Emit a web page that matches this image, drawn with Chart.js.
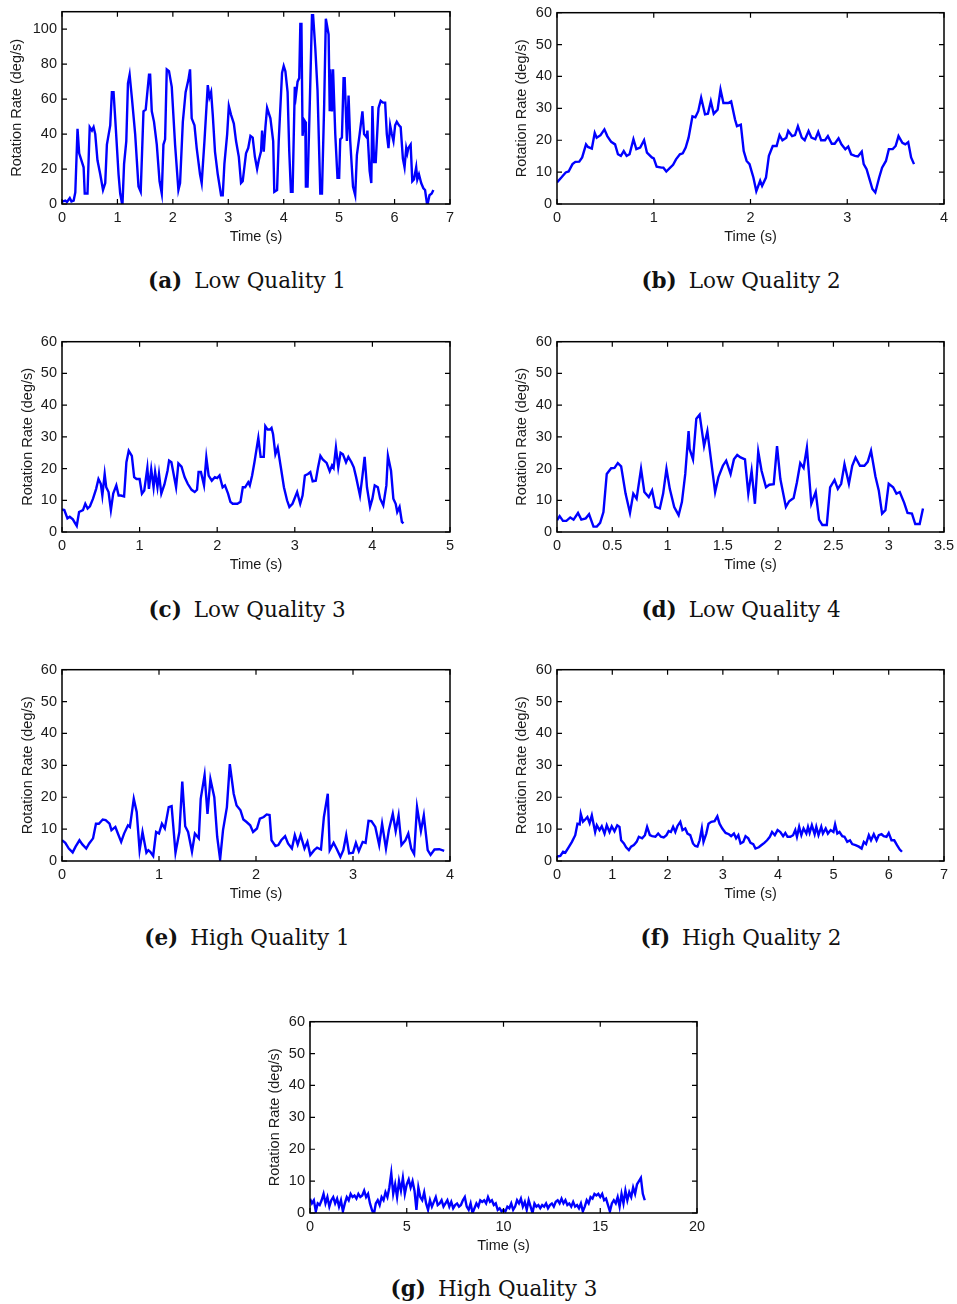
<!DOCTYPE html>
<html>
<head>
<meta charset="utf-8">
<script src="https://cdn.jsdelivr.net/npm/chart.js@4.4.1/dist/chart.umd.min.js"></script>
<style>
    body { margin: 0; background: #fff; width: 957px; height: 1304px; position: relative; overflow: hidden; }
    canvas { position: absolute; }
    .cap { position: absolute; width: 400px; text-align: center; font-family: "DejaVu Serif", serif; font-size: 21.5px; line-height: 28px; color: #111; }
    .cap b { margin-right: 12px; }
</style>
</head>
<body>

<canvas id="chartA"></canvas>
<canvas id="chartB"></canvas>
<canvas id="chartC"></canvas>
<canvas id="chartD"></canvas>
<canvas id="chartE"></canvas>
<canvas id="chartF"></canvas>
<canvas id="chartG"></canvas>

<div class="cap" id="capA"><b>(a)</b>Low Quality 1</div>
<div class="cap" id="capB"><b>(b)</b>Low Quality 2</div>
<div class="cap" id="capC"><b>(c)</b>Low Quality 3</div>
<div class="cap" id="capD"><b>(d)</b>Low Quality 4</div>
<div class="cap" id="capE"><b>(e)</b>High Quality 1</div>
<div class="cap" id="capF"><b>(f)</b>High Quality 2</div>
<div class="cap" id="capG"><b>(g)</b>High Quality 3</div>

<script>

// Axis ticks
const yTicksA = [0, 20, 40, 60, 80, 100];
const yTicks60 = [0, 10, 20, 30, 40, 50, 60];
const xTicksA = [0, 1, 2, 3, 4, 5, 6, 7];
const xTicksB = [0, 1, 2, 3, 4];
const xTicksC = [0, 1, 2, 3, 4, 5];
const xTicksD = [0, 0.5, 1, 1.5, 2, 2.5, 3, 3.5];
const xTicksE = [0, 1, 2, 3, 4];
const xTicksF = [0, 1, 2, 3, 4, 5, 6, 7];
const xTicksG = [0, 5, 10, 15, 20];

// (a) Low Quality 1
const timeA = [0,0.06,0.09,0.14,0.17,0.21,0.24,0.28,0.31,0.39,
    0.41,0.46,0.5,0.54,0.57,0.6,0.64,0.69,0.74,0.78,
    0.81,0.87,0.9,0.93,0.96,1.02,1.05,1.09,1.12,1.16,
    1.19,1.22,1.26,1.32,1.38,1.42,1.47,1.51,1.57,1.59,
    1.62,1.66,1.71,1.76,1.8,1.83,1.86,1.89,1.93,1.98,
    2.04,2.1,2.13,2.18,2.23,2.28,2.31,2.34,2.39,2.43,
    2.49,2.52,2.57,2.63,2.66,2.69,2.72,2.76,2.81,2.87,
    2.9,2.93,2.98,3.01,3.05,3.1,3.14,3.19,3.23,3.26,
    3.32,3.36,3.4,3.44,3.48,3.52,3.55,3.59,3.61,3.64,
    3.67,3.7,3.76,3.81,3.83,3.88,3.91,3.97,4.0,4.03,
    4.07,4.1,4.13,4.16,4.2,4.22,4.25,4.28,4.3,4.32,
    4.34,4.37,4.39,4.4,4.43,4.47,4.51,4.53,4.57,4.61,
    4.66,4.69,4.73,4.76,4.81,4.83,4.84,4.87,4.89,4.93,
    4.97,5.0,5.02,5.05,5.08,5.1,5.14,5.17,5.2,5.25,
    5.29,5.32,5.37,5.42,5.45,5.5,5.51,5.55,5.58,5.6,
    5.63,5.66,5.71,5.75,5.79,5.83,5.86,5.89,5.92,5.95,
    5.98,6.01,6.04,6.08,6.11,6.15,6.18,6.21,6.23,6.25,
    6.29,6.32,6.35,6.39,6.41,6.44,6.48,6.52,6.55,6.59,
    6.63,6.67,6.7];
const rateA = [1.3,2,1.2,3.4,1.5,2,6.6,43,29,21,
    6,6,44,42,44,40,25,17,8,12,
    34,45,64,64,49,17,6,-1,23,36,
    69,74,61,40,10,7,53,54,74,74,
    53,47,34,13,6,34,37,77,76,67,
    34,8,12,47,64,71,77,49,45,32,
    17,12,36,68,61,64,51,30,17,5,
    5,23,40,56,51,46,36,27,12,13,
    29,32,39,38,27,20,25,30,42,30,
    44,55,49,36,7,8,36,75,79,76,
    64,30,7,7,67,62,70,72,103,103,
    39,48,47,10,10,57,108,108,89,65,
    6,6,57,106,97,53,77,53,77,40,
    15,15,37,38,72,72,36,62,36,10,
    5,28,40,53,40,38,42,19,12,56,
    24,24,55,59,58,58,40,32,45,40,
    36,45,47,45,44,26,21,32,29,32,
    34,13,14,21,14,17,12,9,8,-1,
    5,6,8];

// (b) Low Quality 2
const timeB = [0,0.045,0.09,0.12,0.16,0.19,0.23,0.26,0.3,0.32,
    0.36,0.39,0.41,0.45,0.49,0.52,0.56,0.6,0.63,0.66,
    0.69,0.72,0.75,0.79,0.82,0.86,0.9,0.93,0.98,1.0,
    1.03,1.08,1.1,1.13,1.17,1.2,1.23,1.27,1.3,1.33,
    1.36,1.4,1.43,1.46,1.49,1.53,1.56,1.59,1.62,1.66,
    1.69,1.72,1.77,1.8,1.84,1.86,1.9,1.93,1.96,1.99,
    2.01,2.03,2.06,2.1,2.12,2.16,2.19,2.23,2.27,2.3,
    2.33,2.37,2.39,2.43,2.46,2.49,2.53,2.56,2.6,2.63,
    2.67,2.7,2.73,2.77,2.8,2.84,2.87,2.91,2.94,2.98,
    3.01,3.04,3.08,3.11,3.15,3.17,3.2,3.23,3.26,3.29,
    3.33,3.36,3.4,3.43,3.47,3.5,3.53,3.57,3.6,3.63,
    3.66,3.69];
const rateB = [6.8,8.3,9.9,10.2,12.5,13.2,13.3,14.6,18.7,17.9,
    17.4,22.3,20.8,21.6,23.4,21.3,19.5,18.7,15.6,15.1,
    16.6,15.1,15.6,20.3,17.2,17.7,20,16.1,14.6,14.3,
    11.7,11.4,11.4,10.2,11.4,12.3,14,15.6,15.9,17.7,
    20.8,27.5,27.2,29.1,33.3,28.1,28.3,32.2,28.3,29.6,
    35.9,31.7,31.7,32.2,26.5,24.4,24.9,16.6,13.5,12.5,
    10.4,8.3,4,7.3,5.7,8.3,15.1,18.2,18.2,21.6,
    20,20.8,22.9,21.3,21.6,24.4,20.8,20,22.9,20.8,
    20.3,22.6,20,20,21.3,18.9,18.9,20.6,18.7,17.2,
    18,15.6,15.1,14.9,16.4,12.5,10.9,7.8,4.7,3.6,
    8.3,11.4,13.5,17.2,17.2,18.2,21.3,19.2,18.7,19.4,
    14.6,12.5];

// (c) Low Quality 3
const timeC = [0,0.03,0.07,0.1,0.14,0.17,0.19,0.22,0.27,0.3,
    0.33,0.36,0.4,0.44,0.47,0.5,0.52,0.55,0.57,0.6,
    0.63,0.66,0.7,0.73,0.76,0.8,0.83,0.86,0.9,0.93,
    0.96,1.0,1.03,1.06,1.1,1.12,1.15,1.18,1.2,1.23,
    1.25,1.28,1.32,1.36,1.38,1.41,1.47,1.5,1.54,1.58,
    1.62,1.67,1.71,1.74,1.76,1.79,1.83,1.86,1.89,1.93,
    1.97,2.0,2.03,2.07,2.1,2.14,2.17,2.2,2.26,2.3,
    2.33,2.36,2.4,2.42,2.45,2.48,2.53,2.56,2.6,2.62,
    2.65,2.68,2.7,2.72,2.75,2.78,2.82,2.86,2.9,2.93,
    2.97,3.03,3.07,3.1,3.13,3.17,3.2,3.23,3.27,3.3,
    3.33,3.36,3.41,3.45,3.48,3.5,3.53,3.56,3.59,3.62,
    3.66,3.69,3.73,3.76,3.79,3.84,3.87,3.9,3.93,3.97,
    4.0,4.03,4.07,4.1,4.14,4.18,4.2,4.24,4.27,4.3,
    4.32,4.35,4.38,4.4];
const rateC = [7.1,6.9,4.3,4.8,4,2.7,1.9,6.3,6.9,8.9,
    7.4,8.1,10.5,13.6,16.7,15.2,11.5,18.3,14.1,12.6,
    6.9,12.1,14.7,11.5,11.5,11.2,22,25.6,24,17.3,
    16.7,16.7,12.1,13.1,20.2,13.6,19.8,14.1,18.9,14.1,
    18.3,12.1,15,19.3,22.5,22,14.1,21.6,20.6,17.3,
    15.2,13.3,12.6,13.3,18.9,18.9,14.7,23.5,17.8,16.2,
    17.3,17,17.8,14.1,14.7,12.1,9.5,8.9,8.9,9.5,
    14.1,14.1,15.7,14.7,17.8,22,29.7,23.7,23.7,33.4,
    32.3,32.3,32.8,30.8,24.5,26.6,20.4,14.1,10,7.9,
    8.9,12.6,8.9,11.5,17.8,18.3,18.9,16,16.2,20.4,
    24,22.9,21.8,19.2,21,20.2,26.6,20.4,25,24.5,
    22,23.7,22,20.4,17.3,11.5,17.3,23.7,14.1,7.9,
    10.5,14.7,14.1,10.5,8.4,14.7,24,19.3,10.5,8.9,
    6.3,7.9,3.2,2.7];

// (d) Low Quality 4
const timeD = [0,0.024,0.054,0.085,0.12,0.15,0.19,0.22,0.26,0.29,
    0.33,0.36,0.39,0.42,0.45,0.49,0.52,0.55,0.58,0.62,
    0.66,0.69,0.72,0.76,0.79,0.83,0.86,0.89,0.93,0.96,
    0.99,1.02,1.06,1.1,1.13,1.16,1.19,1.2,1.23,1.26,
    1.29,1.33,1.36,1.39,1.43,1.46,1.5,1.53,1.57,1.6,
    1.63,1.66,1.7,1.73,1.76,1.79,1.82,1.85,1.89,1.92,
    1.96,1.99,2.02,2.07,2.1,2.14,2.17,2.2,2.23,2.26,
    2.3,2.34,2.37,2.4,2.44,2.47,2.51,2.54,2.57,2.6,
    2.64,2.67,2.7,2.74,2.78,2.81,2.84,2.88,2.91,2.94,
    2.97,3.0,3.04,3.07,3.1,3.14,3.17,3.21,3.24,3.28,
    3.31];
const rateD = [3.7,5,3.5,3.5,4.6,3.9,6,3.9,4.3,5.6,
    1.7,1.7,2.9,6.3,18.3,20.1,20.2,21.7,20.7,12.1,
    6,12.1,10.5,19.9,12.6,11,13.1,7.9,7.4,12.1,
    19.9,13.6,7.9,5.3,9.5,18.3,31.8,26.1,22.9,35.7,
    37,27.1,31.8,23.5,12.6,17.3,20.9,22.5,18.3,22.9,
    24.3,23.5,22.9,12.1,19.3,8.9,25.4,19.3,14.1,14.9,
    15.1,27.1,16.7,7.9,9.7,10.7,15.7,21.7,20.2,26.6,
    8.9,12.6,3.9,2.2,2.2,14.1,16.4,13.6,15.2,21.4,
    15.2,20.9,23.5,20.9,20.9,22.1,25.6,17.5,13.1,5.8,
    6.9,15.2,14.1,12.1,12.6,9.2,6,5.8,2.5,2.5,
    7.4];

// (e) High Quality 1
const timeE = [0,0.034,0.07,0.11,0.14,0.18,0.21,0.25,0.28,0.32,
    0.35,0.38,0.42,0.45,0.49,0.51,0.55,0.57,0.61,0.64,
    0.68,0.7,0.74,0.77,0.8,0.83,0.87,0.89,0.91,0.94,
    0.97,1.0,1.03,1.06,1.1,1.13,1.17,1.21,1.24,1.27,
    1.3,1.34,1.37,1.41,1.43,1.47,1.5,1.53,1.57,1.6,
    1.63,1.66,1.7,1.73,1.77,1.8,1.84,1.87,1.9,1.94,
    1.97,2.01,2.04,2.08,2.11,2.14,2.16,2.2,2.23,2.26,
    2.3,2.33,2.37,2.4,2.43,2.46,2.5,2.53,2.56,2.6,
    2.63,2.67,2.7,2.74,2.76,2.8,2.83,2.87,2.9,2.93,
    2.96,3.0,3.03,3.06,3.1,3.13,3.16,3.19,3.23,3.27,
    3.3,3.34,3.37,3.41,3.44,3.47,3.5,3.54,3.57,3.6,
    3.63,3.66,3.7,3.73,3.77,3.8,3.84,3.89,3.94];
const rateE = [6.5,5.7,3.9,2.7,4.5,6.5,5.2,3.9,5.5,7.1,
    11.7,11.7,13,12.8,11.7,9.7,10.7,9.1,6,8.6,
    11.2,10.7,19.5,15.4,3.4,9.1,2.6,3.4,2.9,1.6,
    9.1,8.6,11.7,10.2,16.9,17.2,2.6,9.1,24.9,10.9,
    9.1,2.9,8.6,7.1,19.5,27,14.8,25.7,20,7.6,
    0.5,9.7,16.9,30.4,21.1,17.4,15.9,13,12.3,11.2,
    9.1,10.2,13.3,13.8,14.6,14.4,6.5,4.7,5,6.5,
    7.8,5.5,3.9,8.1,5.2,8.1,3.9,6,1.9,3.4,
    4.2,3.6,13.8,21.1,3.4,5.7,3.9,1.3,3.4,8.1,
    2.4,2.6,5.7,3.1,6,5.7,12.6,12.5,10.7,5,
    11.7,3.9,9.7,14.8,9.4,14.3,5,6.5,8.6,3.9,
    2.2,16.9,9.4,14.3,3.4,1.9,3.6,3.7,3.2];

// (f) High Quality 2
const timeF = [0,0.06,0.11,0.15,0.21,0.27,0.33,0.37,0.41,0.43,
    0.47,0.51,0.55,0.59,0.63,0.66,0.69,0.72,0.77,0.81,
    0.86,0.9,0.95,0.99,1.04,1.09,1.13,1.16,1.21,1.25,
    1.3,1.34,1.39,1.44,1.48,1.54,1.59,1.63,1.68,1.72,
    1.78,1.83,1.88,1.93,1.98,2.02,2.06,2.1,2.14,2.18,
    2.23,2.27,2.32,2.36,2.41,2.46,2.5,2.54,2.58,2.62,
    2.65,2.7,2.74,2.79,2.85,2.9,2.94,2.99,3.05,3.11,
    3.15,3.2,3.24,3.28,3.32,3.37,3.41,3.46,3.5,3.55,
    3.59,3.65,3.7,3.75,3.8,3.85,3.89,3.94,3.99,4.04,
    4.09,4.13,4.17,4.22,4.27,4.31,4.34,4.38,4.42,4.46,
    4.51,4.54,4.57,4.61,4.66,4.69,4.73,4.78,4.81,4.86,
    4.9,4.95,5.0,5.03,5.07,5.11,5.16,5.2,5.25,5.3,
    5.34,5.4,5.46,5.51,5.55,5.59,5.64,5.68,5.73,5.78,
    5.82,5.87,5.91,5.96,6.0,6.05,6.1,6.15,6.2,6.24];
const rateF = [1.4,1.6,2.9,2.6,4.3,6,8.1,11.7,11.5,14.8,
    12.3,13,13.8,11.9,14.3,11.7,9.1,11.2,9.7,10.9,
    8.6,11.2,9.1,10.9,9.3,11.2,10.7,6.5,5.5,4.3,
    3.4,4.5,5,6,7.6,7.1,8.1,10.7,8.1,7.8,
    7.6,8.6,7.6,7.4,8.1,9.4,9.1,10.7,9.1,11,
    12.3,9.7,10.2,8.6,8.1,5.5,4.7,4.5,6.5,10.2,
    6,8.6,11.7,12.3,12.5,14,11.7,10.2,8.8,8.4,
    7.8,8.6,7.1,8.1,5.5,6,7.8,7.1,5.7,5.3,
    3.9,4.3,5,5.7,6.5,7.6,9.1,8.1,9.7,9.1,
    7.8,8.8,7.6,7.6,8.1,9.7,7.6,10.7,8.1,10.2,
    8.6,10.7,8.8,11.2,8.4,10.7,8.1,10.7,8.6,10.2,
    8.6,9.7,9.1,11.5,8.6,9.1,7.8,7.6,6,6.5,
    5.3,5,4.5,3.9,6,5.3,8.1,6.5,8.4,6.5,
    8.1,8.4,7.8,7.6,8.8,6.5,6.5,5,3.6,2.9];

// (g) High Quality 3, one reading every 0.1 s
const sampleStepG = 0.1;
const rateG = [4.5,3,4,0.5,3,2.5,4,6,3,5,
    2,4,5,3,4.5,2,4,0.5,3,5,
    4,6,5,5.5,4.5,6,5,5.5,7,5,
    6,3,1,-0.5,3,4,2.5,5,4,6.5,
    5,8,12.5,6,9,5,10,7,11,6,
    9,10.5,8,10,7,1,8,5,4,6.5,
    3,1,4,2,3.5,5,2.5,3,4,2,
    3,4,2,3.5,1.5,2.5,3,2,2.5,4,
    5,2,1,3,0,1.5,3,2,4,3.5,
    4,3,5,3.5,4,2.5,3,1,1.5,0.5,
    1,0.5,2,1.5,3,1,2,4,3,4.5,
    2,3.5,1,4,2,0,3,2,2.5,1.5,
    2.5,2,3,1.5,2.5,3,2,3.5,4,3,
    4.5,3,4,2.5,3,2,3.5,2,2.5,1.5,
    3,0.5,2,4,3,5,4.5,6,5.5,6,
    5,6,4,4.5,2.5,0.5,3,4,3,5,
    2,6,3,7,4,6.5,5,8,6,9,
    10,11,6,4];
const timeG = rateG.map((v, i) => +(i * sampleStepG).toFixed(1));

const FONT = '"Liberation Sans", Arial, sans-serif';
const TEXT = '#1a1a1a';

// draws the axes box and the inward tick marks on all four sides
const boxPlugin = {
    id: 'boxPlugin',
    afterDatasetsDraw(chart) {
        const { ctx, chartArea: a, scales } = chart;
        const len = 5;
        ctx.save();
        ctx.strokeStyle = '#000';
        ctx.lineWidth = 1.2;
        ctx.beginPath();
        scales.x.ticks.forEach(t => {
            const px = scales.x.getPixelForValue(t.value);
            ctx.moveTo(px, a.bottom);
            ctx.lineTo(px, a.bottom - len);
            ctx.moveTo(px, a.top);
            ctx.lineTo(px, a.top + len);
        });
        scales.y.ticks.forEach(t => {
            const py = scales.y.getPixelForValue(t.value);
            ctx.moveTo(a.left, py);
            ctx.lineTo(a.left + len, py);
            ctx.moveTo(a.right, py);
            ctx.lineTo(a.right - len, py);
        });
        ctx.stroke();
        ctx.lineWidth = 1.5;
        ctx.strokeRect(a.left, a.top, a.right - a.left, a.bottom - a.top);
        ctx.restore();
    }
};

function makePanel(id, box, times, rates, xMax, xTicks, yMax, yTicks, titlePad) {

    const canvas = document.getElementById(id);
    const padTop = 12, padRight = 20, yWidth = 62, xHeight = 46;

    canvas.width = (box.r - box.l) + yWidth + padRight;
    canvas.height = (box.b - box.t) + padTop + xHeight;
    canvas.style.left = (box.l - yWidth) + 'px';
    canvas.style.top = (box.t - padTop) + 'px';

    const points = times.map((t, i) => ({ x: t, y: rates[i] }));

    return new Chart(canvas, {
        type: 'line',
        data: {
            datasets: [{
                data: points,
                borderColor: '#0000ff',
                borderWidth: 2.4,
                pointRadius: 0,
                tension: 0,
                fill: false
            }]
        },
        options: {
            responsive: false,
            animation: false,
            devicePixelRatio: 1,
            layout: { padding: { top: padTop, right: padRight, left: 0, bottom: 0 } },
            plugins: { legend: { display: false }, tooltip: { enabled: false } },
            scales: {
                x: {
                    type: 'linear',
                    min: 0,
                    max: xMax,
                    bounds: 'data',
                    grid: { display: false, drawTicks: false },
                    border: { display: false },
                    afterBuildTicks: s => { s.ticks = xTicks.map(v => ({ value: v })); },
                    afterFit: s => { s.height = xHeight; },
                    ticks: {
                        autoSkip: false,
                        maxRotation: 0,
                        padding: 5.5,
                        color: TEXT,
                        font: { family: FONT, size: 14.5 },
                        callback: v => String(v)
                    },
                    title: {
                        display: true,
                        text: 'Time (s)',
                        color: TEXT,
                        font: { family: FONT, size: 14.5 },
                        padding: { top: 0, bottom: 4.3 }
                    }
                },
                y: {
                    type: 'linear',
                    min: 0,
                    max: yMax,
                    bounds: 'data',
                    grid: { display: false, drawTicks: false },
                    border: { display: false },
                    afterBuildTicks: s => { s.ticks = yTicks.map(v => ({ value: v })); },
                    afterFit: s => { s.width = yWidth; },
                    ticks: {
                        padding: 5,
                        color: TEXT,
                        font: { family: FONT, size: 14.5 },
                        callback: v => String(v)
                    },
                    title: {
                        display: true,
                        text: 'Rotation Rate (deg/s)',
                        color: TEXT,
                        font: { family: FONT, size: 14.5 },
                        padding: { top: titlePad, bottom: 0 }
                    }
                }
            }
        },
        plugins: [boxPlugin]
    });

}

makePanel('chartA', { l: 62, t: 10, r: 450, b: 204 }, timeA, rateA, 7, xTicksA, 110, yTicksA, 8.6);
makePanel('chartB', { l: 557, t: 11, r: 944, b: 204 }, timeB, rateB, 4, xTicksB, 60, yTicks60, 18);
makePanel('chartC', { l: 62, t: 340, r: 450, b: 532 }, timeC, rateC, 5, xTicksC, 60, yTicks60, 19);
makePanel('chartD', { l: 557, t: 340, r: 944, b: 532 }, timeD, rateD, 3.5, xTicksD, 60, yTicks60, 18);
makePanel('chartE', { l: 62, t: 668, r: 450, b: 861 }, timeE, rateE, 4, xTicksE, 60, yTicks60, 19);
makePanel('chartF', { l: 557, t: 668, r: 944, b: 861 }, timeF, rateF, 7, xTicksF, 60, yTicks60, 18);
makePanel('chartG', { l: 310, t: 1020, r: 697, b: 1213 }, timeG, rateG, 20, xTicksG, 60, yTicks60, 18.3);

// captions, centred a little left of each axes box
function placeCaption(id, cx, cy) {
    const el = document.getElementById(id);
    el.style.left = (cx - 200) + 'px';
    el.style.top = (cy - 14) + 'px';
}

placeCaption('capA', 247, 281);
placeCaption('capB', 741, 281);
placeCaption('capC', 247, 610);
placeCaption('capD', 741, 610);
placeCaption('capE', 247, 938);
placeCaption('capF', 741, 938);
placeCaption('capG', 494, 1289);

</script>
</body>
</html>
